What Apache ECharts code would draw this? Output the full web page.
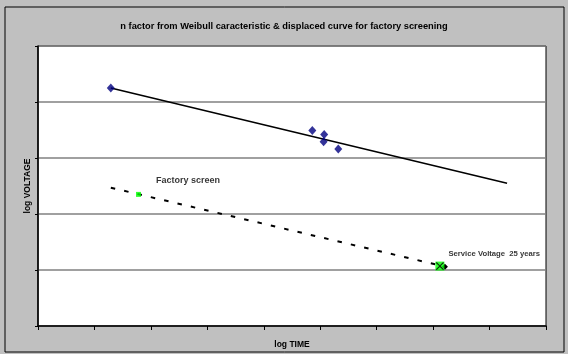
<!DOCTYPE html>
<html>
<head>
<meta charset="utf-8">
<script src="https://cdn.jsdelivr.net/npm/echarts@6/dist/echarts.min.js"></script>
<style>
  html, body { margin: 0; padding: 0; background: #c0c0c0; }
  #chart { width: 568px; height: 354px; }
</style>
</head>
<body>
<div id="chart"></div>
<script>
// Measured failure points (log time, log voltage)
const weibullTime = [1.29, 4.86, 5.07, 5.06, 5.32];
const weibullVolt = [4.25, 3.49, 3.42, 3.29, 3.16];

// Fitted characteristic line
const fitTime = [1.29, 8.31];
const fitVolt = [4.25, 2.55];

// Displaced curve for factory screening
const shiftTime = [1.29, 7.21];
const shiftVolt = [2.47, 1.06];

// Factory screen point and service point
const screenPoint = [1.78, 2.35];
const servicePoint = [7.12, 1.07];

const titleText = 'n factor from Weibull caracteristic & displaced curve for factory screening';
const xName = 'log TIME';
const yName = 'log VOLTAGE';
const screenLabel = 'Factory screen';
const serviceLabel = 'Service Voltage  25 years';

const pairs = (xs, ys) => xs.map((x, i) => [x, ys[i]]);
const FONT = '"Liberation Sans", Arial, sans-serif';
const crossPath = 'path://M0,1L1,0L5,4L9,0L10,1L6,5L10,9L9,10L5,6L1,10L0,9L4,5Z';

// Dashed curve: marker only on its last point
const shiftData = pairs(shiftTime, shiftVolt).map((p, i, arr) => ({
  value: p,
  symbol: i === arr.length - 1 ? 'diamond' : 'none'
}));

const chart = echarts.init(document.getElementById('chart'), null, { renderer: 'canvas' });

chart.setOption({
  backgroundColor: '#c0c0c0',
  animation: false,
  title: {
    text: titleText,
    left: 'center',
    top: 17,
    textStyle: { fontFamily: FONT, fontSize: 9.3, fontWeight: 'bold', color: '#000' }
  },
  graphic: [{
    type: 'rect',
    shape: { x: 5, y: 7, width: 559, height: 345 },
    style: { fill: null, stroke: '#000', lineWidth: 1 },
    silent: true
  }],
  grid: {
    left: 38, right: 22, top: 46, bottom: 28,
    show: true,
    backgroundColor: '#ffffff',
    borderColor: '#000',
    borderWidth: 1
  },
  xAxis: {
    type: 'value',
    min: 0, max: 9, interval: 1,
    name: xName,
    nameLocation: 'middle',
    nameGap: 14,
    nameTextStyle: { fontFamily: FONT, fontSize: 8.5, fontWeight: 'bold', color: '#000' },
    axisLine: { show: true, lineStyle: { color: '#000', width: 1.5 } },
    axisTick: { show: true, length: 4, inside: false, lineStyle: { color: '#000' } },
    axisLabel: { show: false },
    splitLine: { show: false }
  },
  yAxis: {
    type: 'value',
    min: 0, max: 5, interval: 1,
    name: yName,
    nameLocation: 'middle',
    nameGap: 6,
    nameRotate: 90,
    nameTextStyle: { fontFamily: FONT, fontSize: 8.5, fontWeight: 'bold', color: '#000' },
    axisLine: { show: true, lineStyle: { color: '#000', width: 1.5 } },
    axisTick: { show: true, length: 3, inside: false, lineStyle: { color: '#000' } },
    axisLabel: { show: false },
    splitLine: { show: true, lineStyle: { color: '#808080', width: 1.5 } }
  },
  series: [
    {
      type: 'line',
      data: pairs(fitTime, fitVolt),
      showSymbol: false,
      lineStyle: { color: '#000', width: 1.6 },
      z: 2
    },
    {
      type: 'line',
      data: shiftData,
      symbolSize: [6, 6],
      showSymbol: true,
      itemStyle: { color: '#000' },
      lineStyle: { color: '#000', width: 2, type: [4.5, 9.2] },
      z: 2
    },
    {
      type: 'scatter',
      data: pairs(weibullTime, weibullVolt),
      symbol: 'diamond',
      symbolSize: [8, 9],
      itemStyle: { color: '#000080' },
      z: 4
    },
    {
      type: 'scatter',
      data: [screenPoint],
      symbol: 'rect',
      symbolSize: 5,
      itemStyle: { color: '#00ff00' },
      label: {
        show: true,
        formatter: screenLabel,
        position: 'right',
        offset: [10, -14],
        fontFamily: FONT, fontSize: 9, fontWeight: 'bold', color: '#000'
      },
      z: 5
    },
    {
      type: 'scatter',
      data: [servicePoint],
      symbol: 'rect',
      symbolSize: 9,
      itemStyle: { color: '#00ff00' },
      label: {
        show: true,
        formatter: serviceLabel,
        position: 'right',
        offset: [-1, -12],
        fontFamily: FONT, fontSize: 7.7, fontWeight: 'bold', color: '#000'
      },
      z: 5
    },
    {
      type: 'scatter',
      data: [servicePoint],
      symbol: crossPath,
      symbolSize: 8,
      itemStyle: { color: '#000' },
      z: 6
    }
  ]
});
</script>
</body>
</html>
